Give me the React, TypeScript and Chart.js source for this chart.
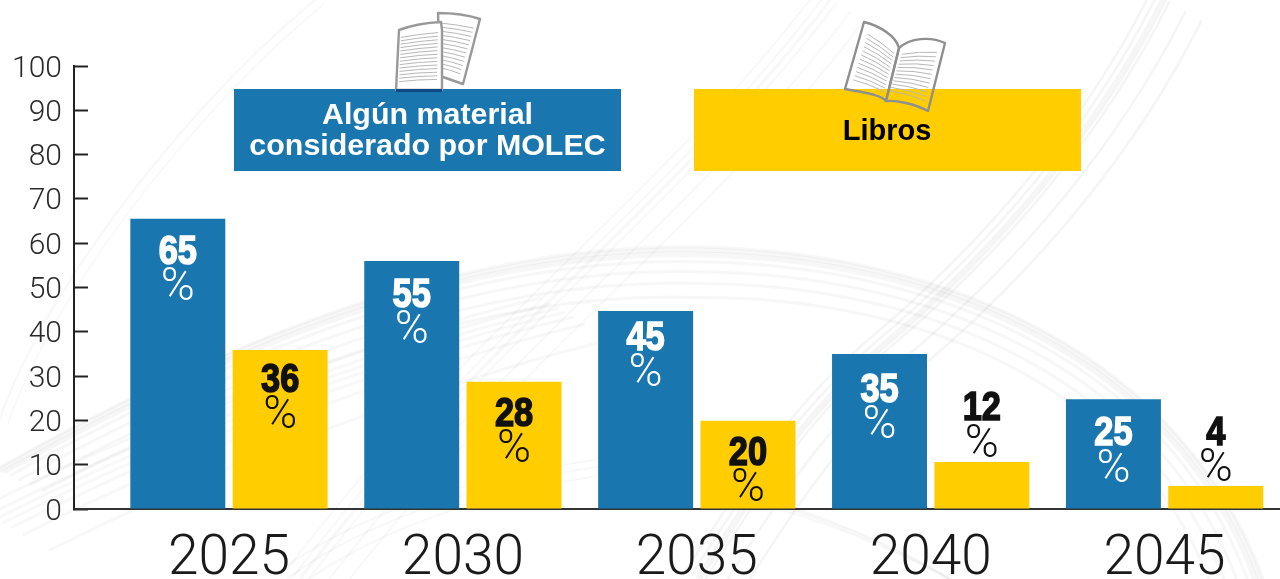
import React, { useEffect, useRef } from "react";
import { Chart, registerables } from "chart.js";

Chart.register(...registerables);

const years = [2025, 2030, 2035, 2040, 2045];
const yTicks = [0, 10, 20, 30, 40, 50, 60, 70, 80, 90, 100];
const materialBars = [65.5, 56, 44.7, 35, 24.8];
const librosBars = [35.9, 28.7, 19.9, 10.6, 5.2];
const materialLabels = ["65", "55", "45", "35", "25"];
const librosLabels = ["36", "28", "20", "12", "4"];
const materialName = ["Algún material", "considerado por MOLEC"];
const librosName = ["Libros"];
const percentSign = "%";

const BLUE = "#1a76ae";
const YELLOW = "#ffcd00";

const materialDrop = [32, 33, 26, 35, 33];
const librosDrop = [29, 31, 31, -55, -54];

type Curve = number[];
const strokes: { c: Curve; w: number; a: number; off: number[]; radial?: boolean }[] = [
  { c: [0, 470, 250, 330, 480, 245, 700, 250, 950, 255, 1180, 360, 1260, 579], w: 3, a: 0.06, off: [3, 0, -3, -6, -12, -22, -34, -48], radial: true },
  { c: [1165, 0, 1100, 130, 1000, 250, 880, 350, 800, 420, 750, 500, 700, 579], w: 2.5, a: 0.07, off: [-14, -8, -3, 0, 4, 20, 36] },
  { c: [830, 0, 740, 120, 620, 230, 520, 330, 430, 420, 360, 500, 300, 579], w: 2, a: 0.05, off: [-14, -6, 0, 6, 20, 34] },
  { c: [315, 0, 230, 70, 120, 190, 40, 330, 20, 370, 5, 400, 0, 420], w: 1.5, a: 0.05, off: [0, 8] },
  { c: [0, 520, 120, 460, 260, 400, 420, 350, 480, 330, 520, 320, 560, 310], w: 3, a: 0.05, off: [-20, -10, -3, 4, 12, 24, 50] },
  { c: [280, 579, 330, 540, 400, 510, 470, 490, 520, 475, 560, 470, 620, 460], w: 2, a: 0.05, off: [-6, 4, 16] },
  { c: [760, 500, 830, 520, 900, 550, 950, 579, 955, 582, 960, 585, 965, 590], w: 2, a: 0.05, off: [-10, 0, 12] },
];

const drawBackdrop = (ctx: CanvasRenderingContext2D) => {
  ctx.save();
  ctx.fillStyle = "#fff";
  ctx.fillRect(0, 0, 1280, 579);
  ctx.lineCap = "round";
  for (const s of strokes) {
    const shift = (x: number, y: number, o: number) => {
      if (!s.radial) return [x + o, y + o * 0.6];
      const dx = x - 620, dy = y - 760, l = Math.hypot(dx, dy);
      return [x + (dx / l) * o, y + (dy / l) * o];
    };
    for (const o of s.off) {
      ctx.beginPath();
      const p0 = shift(s.c[0], s.c[1], o);
      ctx.moveTo(p0[0], p0[1]);
      for (let i = 2; i < s.c.length; i += 6) {
        const a = shift(s.c[i], s.c[i + 1], o);
        const b = shift(s.c[i + 2], s.c[i + 3], o);
        const e = shift(s.c[i + 4], s.c[i + 5], o);
        ctx.bezierCurveTo(a[0], a[1], b[0], b[1], e[0], e[1]);
      }
      ctx.strokeStyle = `rgba(120,120,120,${s.a})`;
      ctx.lineWidth = s.w * (o === 0 ? 1.6 : 1);
      ctx.stroke();
    }
  }
  ctx.restore();
};

const ruled = (
  ctx: CanvasRenderingContext2D,
  a: number[], b: number[], c: number[], d: number[], n: number, bow: number
) => {
  ctx.strokeStyle = "#b8b8b8";
  ctx.lineWidth = 1;
  for (let i = 1; i <= n; i++) {
    const t = i / (n + 1);
    const x1 = a[0] + (d[0] - a[0]) * t, y1 = a[1] + (d[1] - a[1]) * t;
    const x2 = b[0] + (c[0] - b[0]) * t, y2 = b[1] + (c[1] - b[1]) * t;
    ctx.beginPath();
    ctx.moveTo(x1, y1);
    ctx.quadraticCurveTo((x1 + x2) / 2, (y1 + y2) / 2 - bow, x2, y2);
    ctx.stroke();
  }
};

const drawLooseSheets = (ctx: CanvasRenderingContext2D) => {
  ctx.save();
  ctx.lineJoin = "round";
  ctx.beginPath();
  ctx.moveTo(438, 13);
  ctx.quadraticCurveTo(462, 13, 480, 19);
  ctx.lineTo(463, 84);
  ctx.lineTo(440, 76);
  ctx.closePath();
  ctx.fillStyle = "#fff";
  ctx.fill();
  ctx.strokeStyle = "#999";
  ctx.lineWidth = 2.4;
  ctx.stroke();
  ruled(ctx, [441, 19], [475, 24], [459, 78], [441, 72], 12, 1);
  ctx.beginPath();
  ctx.moveTo(399, 30);
  ctx.quadraticCurveTo(418, 23, 441, 22);
  ctx.lineTo(442, 30);
  ctx.lineTo(442, 90);
  ctx.lineTo(396, 90);
  ctx.closePath();
  ctx.fillStyle = "#fff";
  ctx.fill();
  ctx.strokeStyle = "#999";
  ctx.lineWidth = 2.4;
  ctx.stroke();
  ruled(ctx, [401, 34], [438, 29], [437, 83], [399, 85], 14, 1);
  ctx.fillStyle = "#0b4a85";
  ctx.fillRect(396, 89, 46, 3);
  ctx.restore();
};

const bookOutlineLeft = (ctx: CanvasRenderingContext2D) => {
  ctx.beginPath();
  ctx.moveTo(864, 22);
  ctx.bezierCurveTo(880, 26, 896, 36, 899, 48);
  ctx.lineTo(886, 101);
  ctx.bezierCurveTo(880, 94, 860, 92, 845, 89);
  ctx.closePath();
};
const bookOutlineRight = (ctx: CanvasRenderingContext2D) => {
  ctx.beginPath();
  ctx.moveTo(899, 48);
  ctx.bezierCurveTo(910, 38, 930, 36, 945, 43);
  ctx.lineTo(928, 111);
  ctx.bezierCurveTo(915, 104, 896, 100, 886, 101);
  ctx.closePath();
};

const drawOpenBook = (ctx: CanvasRenderingContext2D) => {
  ctx.save();
  ctx.lineJoin = "round";
  ctx.save();
  ctx.beginPath();
  ctx.rect(830, 0, 130, 89);
  ctx.clip();
  ctx.fillStyle = "#fff";
  bookOutlineLeft(ctx);
  ctx.fill();
  bookOutlineRight(ctx);
  ctx.fill();
  ctx.restore();
  ruled(ctx, [869, 30], [895, 50], [883, 95], [852, 84], 12, 2);
  ruled(ctx, [903, 51], [938, 48], [924, 105], [889, 94], 12, 2);
  ctx.strokeStyle = "#8f8f8f";
  ctx.lineWidth = 2.4;
  bookOutlineLeft(ctx);
  ctx.stroke();
  bookOutlineRight(ctx);
  ctx.stroke();
  ctx.restore();
};

const drawKey = (ctx: CanvasRenderingContext2D) => {
  ctx.save();
  ctx.fillStyle = BLUE;
  ctx.fillRect(234, 89, 387, 82);
  ctx.fillStyle = YELLOW;
  ctx.fillRect(694, 89, 387, 82);
  drawLooseSheets(ctx);
  drawOpenBook(ctx);
  ctx.textAlign = "center";
  ctx.textBaseline = "middle";
  ctx.font = "bold 30.4px 'Liberation Sans'";
  ctx.fillStyle = "#fff";
  ctx.fillText(materialName[0], 427.5, 116);
  ctx.fillText(materialName[1], 427.5, 147);
  ctx.font = "bold 29px 'Liberation Sans'";
  ctx.fillStyle = "#000";
  ctx.fillText(librosName[0], 887, 132);
  ctx.restore();
};

const drawValue = (
  ctx: CanvasRenderingContext2D, text: string, x: number, top: number, drop: number, color: string
) => {
  ctx.textAlign = "center";
  ctx.textBaseline = "middle";
  ctx.fillStyle = color;
  ctx.strokeStyle = color;
  ctx.save();
  ctx.translate(x, top + drop + 2);
  ctx.scale(0.86, 1);
  ctx.lineWidth = 1.6;
  ctx.font = "bold 40px 'Liberation Sans'";
  ctx.fillText(text, 0, 0);
  ctx.strokeText(text, 0, 0);
  ctx.restore();
  ctx.font = "300 46px Roboto";
  ctx.fillText(percentSign, x, top + drop + 38);
};

const overlay = {
  id: "overlay",
  beforeDraw(chart: Chart) {
    drawBackdrop(chart.ctx);
  },
  afterDraw(chart: Chart) {
    const ctx = chart.ctx;
    drawKey(ctx);
    ctx.save();
    chart.getDatasetMeta(0).data.forEach((el: any, i: number) => {
      drawValue(ctx, materialLabels[i], el.x, el.y, materialDrop[i], "#fff");
    });
    chart.getDatasetMeta(1).data.forEach((el: any, i: number) => {
      drawValue(ctx, librosLabels[i], el.x, el.y, librosDrop[i], "#111");
    });
    ctx.restore();
  },
};

export default function App() {
  const ref = useRef<HTMLCanvasElement>(null);
  useEffect(() => {
    if (!ref.current) return;
    const chart = new Chart(ref.current, {
      type: "bar",
      data: {
        datasets: [
          {
            label: materialName.join(" "),
            data: years.map((x, i) => ({ x, y: materialBars[i] })),
            backgroundColor: BLUE,
            categoryPercentage: 0.875,
            barPercentage: 0.928,
          },
          {
            label: librosName[0],
            data: years.map((x, i) => ({ x, y: librosBars[i] })),
            backgroundColor: YELLOW,
            categoryPercentage: 0.875,
            barPercentage: 0.928,
          },
        ],
      },
      options: {
        animation: false,
        responsive: false,
        devicePixelRatio: 1,
        layout: { padding: { top: 66, left: 0, right: 0, bottom: 0 } },
        plugins: { legend: { display: false }, tooltip: { enabled: false } },
        scales: {
          x: {
            type: "linear",
            offset: false,
            min: 2021.687,
            max: 2047.467,
            grid: { display: false, offset: false },
            border: { display: true, color: "#333", width: 2 },
            afterFit: (s: any) => { s.height = 70; },
            ticks: {
              stepSize: 5,
              includeBounds: false,
              autoSkip: false,
              maxRotation: 0,
              padding: 10,
              color: "#1a1a1a",
              font: { family: "Roboto", weight: "300", size: 55 },
              callback: (v: any) => (years.includes(v) ? String(v) : ""),
            },
          },
          y: {
            min: 0,
            max: 100,
            afterFit: (s: any) => { s.width = 74; },
            afterBuildTicks: (s: any) => { s.ticks = yTicks.map((value) => ({ value })); },
            border: { display: true, color: "#222", width: 2 },
            grid: {
              display: true,
              drawOnChartArea: false,
              drawTicks: true,
              tickLength: -14,
              tickWidth: 2,
              tickColor: "#222",
            },
            ticks: {
              padding: 26,
              labelOffset: 3,
              color: "#2a2a2a",
              font: { family: "Roboto", weight: "300", size: 30 },
            },
          },
        },
      },
      plugins: [overlay],
    } as any);
    return () => chart.destroy();
  }, []);
  return (
    <div style={{ position: "absolute", left: 0, top: 0, width: 1280, height: 579, overflow: "hidden", background: "#fff" }}>
      <canvas ref={ref} width={1280} height={579} style={{ display: "block" }} />
    </div>
  );
}
